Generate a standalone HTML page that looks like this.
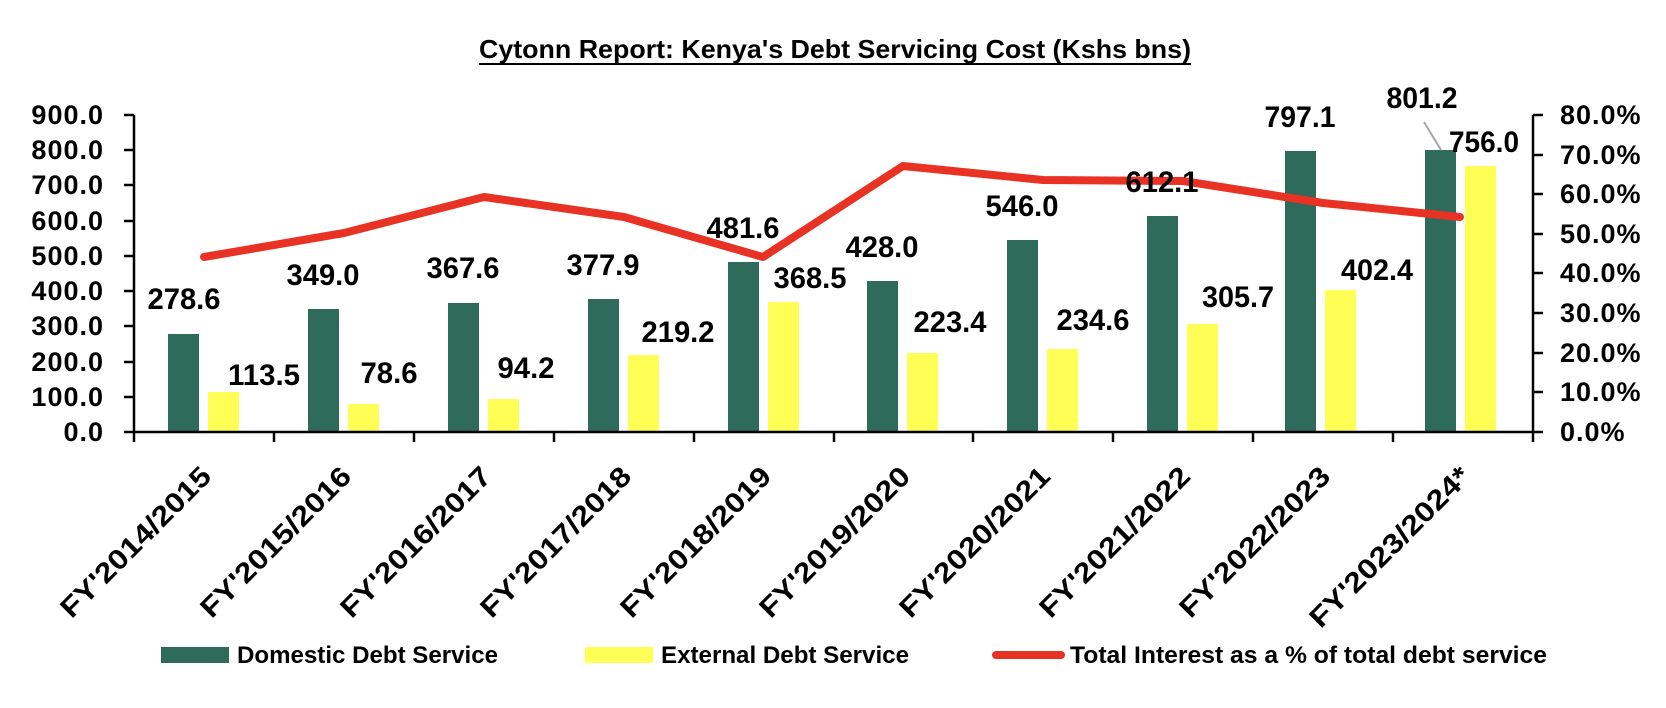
<!DOCTYPE html>
<html><head><meta charset="utf-8"><style>
html,body{margin:0;padding:0;background:#fff;}
svg{display:block;font-family:"Liberation Sans",sans-serif;font-weight:bold;}
</style></head><body>
<svg width="1666" height="708" viewBox="0 0 1666 708" xmlns="http://www.w3.org/2000/svg">
<text x="835" y="58" font-size="26" text-anchor="middle" textLength="712" lengthAdjust="spacingAndGlyphs">Cytonn Report: Kenya's Debt Servicing Cost (Kshs bns)</text>
<line x1="479" y1="64" x2="1191" y2="64" stroke="#000" stroke-width="2"/>
<g fill="#2e6b5a">
<rect x="168" y="334" width="31" height="98"/>
<rect x="308" y="309" width="31" height="123"/>
<rect x="448" y="303" width="31" height="129"/>
<rect x="588" y="299" width="31" height="133"/>
<rect x="728" y="262" width="31" height="170"/>
<rect x="867" y="281" width="31" height="151"/>
<rect x="1007" y="240" width="31" height="192"/>
<rect x="1147" y="216" width="31" height="216"/>
<rect x="1285" y="151" width="31" height="281"/>
<rect x="1425" y="150" width="31" height="282"/>
</g>
<g fill="#ffff55">
<rect x="208" y="392" width="31" height="40"/>
<rect x="348" y="404" width="31" height="28"/>
<rect x="488" y="399" width="31" height="33"/>
<rect x="628" y="355" width="31" height="77"/>
<rect x="768" y="302" width="31" height="130"/>
<rect x="907" y="353" width="31" height="79"/>
<rect x="1047" y="349" width="31" height="83"/>
<rect x="1187" y="324" width="31" height="108"/>
<rect x="1325" y="290" width="31" height="142"/>
<rect x="1465" y="166" width="31" height="266"/>
</g>
<polyline fill="none" stroke="#e83324" stroke-width="8" stroke-linecap="round" stroke-linejoin="round"
points="204,257 344,233 484,197 624,217 763,257 903,166 1043,180 1183,181 1323,203 1460,217"/>
<g stroke="#000" stroke-width="2.5" fill="none">
<line x1="134" y1="115" x2="134" y2="433"/>
<line x1="1533" y1="115" x2="1533" y2="433"/>
<line x1="134" y1="432" x2="1533" y2="432"/>
</g>
<g stroke="#000" stroke-width="2.5">
<line x1="124" y1="432" x2="134" y2="432"/><line x1="124" y1="397" x2="134" y2="397"/><line x1="124" y1="362" x2="134" y2="362"/><line x1="124" y1="326" x2="134" y2="326"/><line x1="124" y1="291" x2="134" y2="291"/><line x1="124" y1="256" x2="134" y2="256"/><line x1="124" y1="221" x2="134" y2="221"/><line x1="124" y1="185" x2="134" y2="185"/><line x1="124" y1="150" x2="134" y2="150"/><line x1="124" y1="115" x2="134" y2="115"/>
<line x1="1533" y1="432" x2="1543" y2="432"/><line x1="1533" y1="392" x2="1543" y2="392"/><line x1="1533" y1="353" x2="1543" y2="353"/><line x1="1533" y1="313" x2="1543" y2="313"/><line x1="1533" y1="273" x2="1543" y2="273"/><line x1="1533" y1="234" x2="1543" y2="234"/><line x1="1533" y1="194" x2="1543" y2="194"/><line x1="1533" y1="155" x2="1543" y2="155"/><line x1="1533" y1="115" x2="1543" y2="115"/>
<line x1="134" y1="432" x2="134" y2="442"/><line x1="274" y1="432" x2="274" y2="442"/><line x1="414" y1="432" x2="414" y2="442"/><line x1="554" y1="432" x2="554" y2="442"/><line x1="694" y1="432" x2="694" y2="442"/><line x1="834" y1="432" x2="834" y2="442"/><line x1="973" y1="432" x2="973" y2="442"/><line x1="1113" y1="432" x2="1113" y2="442"/><line x1="1253" y1="432" x2="1253" y2="442"/><line x1="1393" y1="432" x2="1393" y2="442"/><line x1="1533" y1="432" x2="1533" y2="442"/>
</g>
<g font-size="27" text-anchor="end" letter-spacing="1">
<text x="104" y="441">0.0</text><text x="104" y="406">100.0</text><text x="104" y="371">200.0</text><text x="104" y="335">300.0</text><text x="104" y="300">400.0</text><text x="104" y="265">500.0</text><text x="104" y="230">600.0</text><text x="104" y="194">700.0</text><text x="104" y="159">800.0</text><text x="104" y="124">900.0</text>
</g>
<g font-size="27" letter-spacing="1">
<text x="1560" y="441">0.0%</text><text x="1560" y="401">10.0%</text><text x="1560" y="362">20.0%</text><text x="1560" y="322">30.0%</text><text x="1560" y="282">40.0%</text><text x="1560" y="243">50.0%</text><text x="1560" y="203">60.0%</text><text x="1560" y="164">70.0%</text><text x="1560" y="124">80.0%</text>
</g>
<g font-size="30" text-anchor="middle" lengthAdjust="spacingAndGlyphs">
<text x="184" y="309" textLength="73" lengthAdjust="spacingAndGlyphs">278.6</text><text x="323" y="285" textLength="73" lengthAdjust="spacingAndGlyphs">349.0</text><text x="463" y="278" textLength="73" lengthAdjust="spacingAndGlyphs">367.6</text><text x="603" y="275" textLength="73" lengthAdjust="spacingAndGlyphs">377.9</text><text x="743" y="238" textLength="73" lengthAdjust="spacingAndGlyphs">481.6</text><text x="882" y="257" textLength="73" lengthAdjust="spacingAndGlyphs">428.0</text><text x="1022" y="216" textLength="73" lengthAdjust="spacingAndGlyphs">546.0</text><text x="1162" y="192" textLength="73" lengthAdjust="spacingAndGlyphs">612.1</text><text x="1300" y="127" textLength="71" lengthAdjust="spacingAndGlyphs">797.1</text><text x="1422" y="108" textLength="71" lengthAdjust="spacingAndGlyphs">801.2</text>
<text x="264" y="385" textLength="72" lengthAdjust="spacingAndGlyphs">113.5</text><text x="389" y="383" textLength="57" lengthAdjust="spacingAndGlyphs">78.6</text><text x="526" y="378" textLength="57" lengthAdjust="spacingAndGlyphs">94.2</text><text x="678" y="342" textLength="73" lengthAdjust="spacingAndGlyphs">219.2</text><text x="810" y="288" textLength="73" lengthAdjust="spacingAndGlyphs">368.5</text><text x="950" y="332" textLength="73" lengthAdjust="spacingAndGlyphs">223.4</text><text x="1093" y="330" textLength="73" lengthAdjust="spacingAndGlyphs">234.6</text><text x="1238" y="307" textLength="72" lengthAdjust="spacingAndGlyphs">305.7</text><text x="1377" y="280" textLength="72" lengthAdjust="spacingAndGlyphs">402.4</text><text x="1484" y="152" textLength="70" lengthAdjust="spacingAndGlyphs">756.0</text>
</g>
<line x1="1424" y1="122" x2="1441" y2="150" stroke="#a6a6a6" stroke-width="2"/>
<g font-size="28" text-anchor="end">
<text transform="translate(213,478) rotate(-45)" textLength="200" lengthAdjust="spacingAndGlyphs">FY'2014/2015</text>
<text transform="translate(353,478) rotate(-45)" textLength="200" lengthAdjust="spacingAndGlyphs">FY'2015/2016</text>
<text transform="translate(493,478) rotate(-45)" textLength="200" lengthAdjust="spacingAndGlyphs">FY'2016/2017</text>
<text transform="translate(633,478) rotate(-45)" textLength="200" lengthAdjust="spacingAndGlyphs">FY'2017/2018</text>
<text transform="translate(773,478) rotate(-45)" textLength="200" lengthAdjust="spacingAndGlyphs">FY'2018/2019</text>
<text transform="translate(912,478) rotate(-45)" textLength="200" lengthAdjust="spacingAndGlyphs">FY'2019/2020</text>
<text transform="translate(1052,478) rotate(-45)" textLength="200" lengthAdjust="spacingAndGlyphs">FY'2020/2021</text>
<text transform="translate(1192,478) rotate(-45)" textLength="200" lengthAdjust="spacingAndGlyphs">FY'2021/2022</text>
<text transform="translate(1332,478) rotate(-45)" textLength="200" lengthAdjust="spacingAndGlyphs">FY'2022/2023</text>
<text transform="translate(1472,478) rotate(-45)" textLength="214" lengthAdjust="spacingAndGlyphs">FY'2023/2024*</text>
</g>
<rect x="161" y="647" width="68" height="16" fill="#2e6b5a"/>
<text x="237" y="663" font-size="24" textLength="261" lengthAdjust="spacingAndGlyphs">Domestic Debt Service</text>
<rect x="585" y="647" width="68" height="16" fill="#ffff55"/>
<text x="661" y="663" font-size="24" textLength="248" lengthAdjust="spacingAndGlyphs">External Debt Service</text>
<line x1="996" y1="655" x2="1061" y2="655" stroke="#e83324" stroke-width="8" stroke-linecap="round"/>
<text x="1070" y="663" font-size="24" textLength="477" lengthAdjust="spacingAndGlyphs">Total Interest as a % of total debt service</text>
</svg>
</body></html>
